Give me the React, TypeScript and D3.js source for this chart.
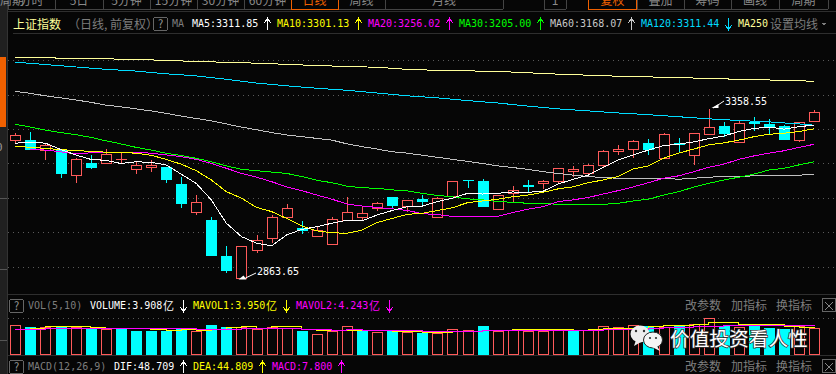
import React from "react";
import * as d3 from "d3";

// [open, close, high, low]
const ohlc: number[][] = [
  [3269,3282,3288,3257.5],[3268.3,3239.2,3290.7,3239],[3240,3252.9,3256.7,3210],[3239.2,3170.2,3242,3158.5],
  [3165.5,3212,3216,3144],[3201.4,3187.7,3224.6,3183.9],[3202.2,3227.6,3242,3200.5],[3211,3212,3232.5,3199],
  [3184.8,3194.7,3203.4,3170],[3190.6,3194.7,3210,3176],[3189.7,3151.9,3189.7,3144],[3140.2,3082.9,3159.7,3071],
  [3057.8,3087,3107.3,3050.8],[3035.4,2930.6,3043.3,2930.6],[2930.6,2887.8,2959.7,2882],[2867.4,2958.9,2958.9,2863.65],
  [2947.2,2976.3,2991.8,2940],[2983.9,3045,3049.1,2969.3],[3045,3069.5,3082,3045],[3012.1,3004.3,3031.6,2995.5],
  [2989.7,3005.4,3018.8,2986],[2965.6,3037.5,3043.3,2962.7],[3034.5,3057.8,3101.5,3034.5],[3045,3054.9,3072.4,3035.4],
  [3069.5,3084,3087.8,3061.6],[3102.4,3076.2,3102.4,3066.6],[3077,3093.7,3093.7,3059.6],[3096.6,3087.8,3108.2,3073.3],
  [3045,3098.6,3101.5,3042.1],[3106.2,3148.1,3148.1,3106.2],[3151,3149,3151,3129.5],[3149,3073.3,3154.8,3073.3],
  [3068.3,3107.3,3107.3,3068.3],[3113.2,3121.9,3134.4,3084],[3137.3,3132.4,3151.9,3117],[3142.3,3148.1,3151.9,3125.7],
  [3149.8,3185.9,3186.8,3142.3],[3179,3183.9,3191.7,3161.5],[3171.4,3194.7,3198.5,3163.5],[3196.4,3235.4,3239.2,3186],
  [3235.4,3241.2,3252.9,3224.6],[3243,3264.5,3268.3,3216.8],[3259.6,3240,3270.4,3225.5],[3215,3284.9,3287.8,3213],
  [3258.7,3254.6,3274.1,3229.6],[3223.8,3287.8,3287.8,3196.4],[3286.7,3305.3,3358.55,3286.7],[3309,3286.7,3320.7,3277.9],
  [3263.4,3316.9,3324.5,3263.4],[3319.8,3315.8,3334.4,3295.4],[3314,3306.2,3328.6,3282.9],[3308.2,3269.2,3312,3269.2],
  [3269.2,3319.8,3319.8,3263.4],[3324.5,3348.9,3357,3324.5],
];

const ma5 = [3259,3262,3259,3241,3225,3212,3209,3200,3205,3203,3196,3169,3142,3094,3026,2987,2968,2960,2992,3008,3016,3026,3035,3033,3050,3063,3074,3076,3089,3099,3113,3111,3113,3117,3116,3119,3140,3154,3166,3189,3210,3225,3239,3252,3256,3263,3272,3280,3293,3302,3306,3300,3307,3311.85];
const ma10 = [3250,3247,3244,3240,3238,3235,3233,3232,3230,3224,3212,3198,3179,3152,3118,3099,3072,3060,3040,3018,3004,2998,2997,3006,3028,3040,3052,3055,3063,3071,3086,3091,3096,3103,3108,3116,3126,3132,3144,3152,3162,3184,3193,3215,3230,3242,3254,3260,3268,3278,3285,3288,3293,3301.13];
const ma20 = [3241,3239,3234,3228,3231,3233,3233,3232,3230,3225,3220,3212,3200,3186,3171,3160,3147,3132,3121,3108,3096,3082,3076,3072,3068,3063,3054,3051,3046,3046,3046,3046,3057,3067,3074,3089,3094,3101,3111,3121,3132,3144,3157,3164,3176,3189,3198,3212,3222,3230,3237,3247,3256.02];
const ma30 = [3314,3306,3297,3290,3284,3276,3266,3257,3247,3239,3230,3223,3215,3205,3193,3183,3179,3175,3171,3162,3151,3144,3134,3129,3128,3123,3120,3113,3107,3103,3097,3094,3089,3087,3084,3084,3081,3081,3081,3081,3084,3091,3096,3108,3118,3131,3142,3152,3160,3169,3181,3186,3196,3205];
const ma60 = [3410,3404,3397,3391,3385,3378,3370,3365,3359,3353,3346,3338,3331,3324,3315,3306,3298,3290,3283,3278,3273,3268,3257,3249,3242,3234,3230,3224,3218,3212,3206,3200,3193,3188,3183,3176,3171,3166,3162,3159,3157,3157,3157,3157,3154,3157,3160,3162,3162,3164,3164,3164,3166,3168.07];
const ma120Idx = [0,2,4,6,8,10,12,14,16,18,20,22,24,26,28,30,32,34,36,38,40,42,44,46,48,50,52,53];
const ma120 = [3495,3488,3481,3474,3469,3461,3455,3445,3434,3426,3419,3413,3405,3397,3391,3383,3376,3367,3359,3353,3347,3342,3336,3330,3325,3321,3315,3311.44];
const ma250Idx = [0,4,8,12,16,20,24,26,28,32,36,40,44,48,52,53];
const ma250 = [3509,3506,3503,3497,3492,3485,3480,3474,3471,3468,3460,3454,3450,3445,3441,3439];

const volume = [4.36,4.05,4.15,4.26,4.05,3.85,3.74,4.0,3.49,3.54,3.54,3.74,3.44,4.41,4.05,4.15,3.85,4.15,3.9,3.49,2.97,3.54,4.21,3.54,3.33,3.54,3.28,3.13,3.23,3.74,3.59,4.26,3.54,3.64,3.54,3.54,3.69,3.49,3.59,4.21,4.05,4.36,4.26,4.15,4.41,4.51,5.44,4.26,4.15,4.26,4.0,3.74,4.26,3.908];
const volUp = [1,0,1,0,1,0,1,0,0,0,0,0,1,0,0,1,1,1,1,0,1,1,1,0,1,0,1,0,1,1,1,0,1,1,1,1,1,0,1,1,1,1,0,1,0,1,1,0,1,0,0,0,1,1];
const mavol1 = [3.74,3.85,4.15,4.15,4.21,4.05,3.9,3.85,3.95,3.79,3.64,3.74,3.59,3.74,4.0,4.15,3.9,4.15,4.15,3.74,3.64,3.64,3.64,3.64,3.59,3.38,3.38,3.23,3.28,3.49,3.49,3.54,3.64,3.74,3.74,3.74,3.74,3.64,3.74,3.85,3.95,3.95,4.15,4.31,4.31,4.51,4.77,4.77,4.56,4.56,4.51,4.26,4.1,3.95];
const mavol2 = [3.74,3.79,3.85,3.85,3.9,3.9,3.9,3.9,3.9,3.9,3.85,3.85,3.74,3.74,3.74,3.85,3.85,3.85,3.85,3.79,3.69,3.64,3.69,3.64,3.59,3.59,3.54,3.38,3.38,3.44,3.49,3.54,3.54,3.54,3.54,3.54,3.54,3.54,3.54,3.74,3.74,3.79,3.9,4.0,4.05,4.15,4.26,4.36,4.36,4.36,4.36,4.31,4.31,4.243];

const priceTicks = [2900,3000,3100,3200,3300,3400,3500];
const leftTabs = ["分时","5日","5分钟","15分钟","30分钟","60分钟","日线","周线","月线","更多周期"];
const rightTabs = ["1","复权","叠加","筹码","画线","周期"];

const C = { bg:"#060606", up:"#ff5a5a", down:"#00ffff", white:"#ffffff", y:"#ffff00", m:"#ff00ff", g:"#00ff00", gray:"#c0c0c0", c120:"#00dcff", p250:"#ffff99", dim:"#7d7d7d", sep:"#2e2e2e" };
const CJK = '"Noto Sans CJK SC", sans-serif';
const MONO = '"DejaVu Sans Mono", monospace';

const xS = d3.scaleLinear().domain([0,53]).range([15.3,814.3]);
const yS = d3.scaleLinear().domain([2863.65,3358.55]).range([279,109]);
const vS = d3.scaleLinear().domain([0,1]).range([353.7,347.2]);
const cx = (i:number) => Math.round(xS(i)) + 0.5;
const px = (v:number) => Math.round(v) + 0.5;

const priceLine = d3.line<[number,number]>().x(d=>xS(d[0])).y(d=>yS(d[1]));
const volLine = d3.line<[number,number]>().x(d=>xS(d[0])).y(d=>vS(d[1])).curve(d3.curveStepAfter);
const zip = (vals:number[], idx?:number[], off=0) => vals.map((v,i)=>[idx?idx[i]:i+off,v] as [number,number]);

const Arrow = ({x,y,color,down}:{x:number;y:number;color:string;down?:boolean}) => (
  <path d={down ? `M${x} ${y-6}V${y+6}M${x-3} ${y+1}L${x} ${y+6}L${x+3} ${y+1}` : `M${x} ${y+6}V${y-6}M${x-3} ${y-1}L${x} ${y-6}L${x+3} ${y-1}`} stroke={color} fill="none" strokeWidth={1} />
);

const Qbox = ({x,y}:{x:number;y:number}) => (
  <g>
    <rect x={x+.5} y={y+.5} width={14} height={13} rx={2} fill="none" stroke="#666" />
    <text x={x+7.5} y={y+11} fontFamily={CJK} fontSize={11} fill="#999" textAnchor="middle">?</text>
  </g>
);

const Mono = ({x,y,fill,children,size=10}:any) => (
  <text x={x} y={y} fontFamily={MONO} fontSize={size} fill={fill} xmlSpace="preserve">{children}</text>
);

const headerMA: [string,number,string,number,boolean][] = [
  ["MA5:3311.85",192,C.white,267,false],
  ["MA10:3301.13",277,C.y,358,false],
  ["MA20:3256.02",368,C.m,449,false],
  ["MA30:3205.00",459,C.g,540,false],
  ["MA60:3168.07",550,"#c8c8c8",631,false],
  ["MA120:3311.44",641,C.c120,728,true],
];

export default function App() {
  const tabEdgesL = [8,55,103,150,197,244,291,338,385,503];
  const tabEdgesR = [544,566,588,637,684,731,779,828];
  return (
    <svg width={836} height={374} style={{position:"fixed",left:0,top:0,display:"block",background:C.bg}} shapeRendering="crispEdges">
      <rect width={836} height={374} fill={C.bg} />
      {/* left strip */}
      <rect x={0} y={0} width={7} height={374} fill="#202020" />
      <rect x={0} y={57} width={6} height={70} fill="#f06000" />
      <line x1={7.5} x2={7.5} y1={0} y2={374} stroke="#333" />
      {[198.5,269.5,340.5].map(y=><line key={y} x1={0} x2={7} y1={y} y2={y} stroke="#555" />)}
      <text x={-4} y={151} fontFamily={MONO} fontSize={11} fill="#999">0</text>

      {/* tab bar */}
      <g>
        {leftTabs.map((t,i)=>(
          <g key={t}>
            <text x={(tabEdgesL[i]+tabEdgesL[i+1])/2} y={5} fontFamily={CJK} fontSize={12} fill={t==="日线"?"#f06000":"#8a8a8a"} textAnchor="middle">{t}</text>
            <line x1={px(tabEdgesL[i])} x2={px(tabEdgesL[i])} y1={0} y2={9} stroke="#444" />
          </g>
        ))}
        <line x1={503.5} x2={503.5} y1={0} y2={9} stroke="#444" />
        <line x1={8} x2={503} y1={9.5} y2={9.5} stroke="#444" />
        {rightTabs.map((t,i)=>{
          const a = i===0?tabEdgesR[0]:tabEdgesR[i+1];
          const b = i===0?tabEdgesR[1]:tabEdgesR[i+2];
          return (
            <g key={t}>
              <text x={(a+b)/2} y={5} fontFamily={CJK} fontSize={12} fill={t==="复权"?"#f06000":"#8a8a8a"} textAnchor="middle">{t}</text>
              <line x1={px(a)} x2={px(a)} y1={0} y2={9} stroke="#444" />
              <line x1={px(b)} x2={px(b)} y1={0} y2={9} stroke="#444" />
            </g>
          );
        })}
        <line x1={544} x2={566} y1={9.5} y2={9.5} stroke="#444" />
        <line x1={588} x2={828} y1={9.5} y2={9.5} stroke="#444" />
        <rect x={291.5} y={-2} width={47} height={11.5} fill="none" stroke="#f06000" />
        <rect x={588.5} y={-2} width={48} height={11.5} fill="none" stroke="#f06000" />
      </g>
      <line x1={8} x2={836} y1={11.5} y2={11.5} stroke={C.sep} />

      {/* header */}
      <text x={13} y={28.5} fontFamily={CJK} fontSize={12} fill={C.p250}>上证指数</text>
      <text x={68} y={28.5} fontFamily={CJK} fontSize={12} fill={C.dim}>（日线, 前复权）</text>
      <Qbox x={153} y={17} />
      <Mono x={172} y={27} fill={C.dim}>MA</Mono>
      {headerMA.map(([t,x,c,ax,dn])=>(
        <g key={t}>
          <Mono x={x} y={27} fill={c}>{t}</Mono>
          <Arrow x={ax+.5} y={24} color={c} down={dn} />
        </g>
      ))}
      <Mono x={738} y={27} fill={C.p250}>MA250</Mono>
      <text x={770} y={28.5} fontFamily={CJK} fontSize={12} fill={C.dim}>设置均线</text>
      <path d="M821 22.5H827L824 26Z" fill={C.dim} />
      <line x1={13} x2={836} y1={33.5} y2={33.5} stroke={C.sep} />

      {/* grid */}
      {priceTicks.map(p=>(
        <line key={p} x1={8} x2={836} y1={px(yS(p))} y2={px(yS(p))} stroke="#5a5a5a" strokeDasharray="1 4" />
      ))}

      {/* candles */}
      {ohlc.map(([o,c,h,l],i)=>{
        const up = c>=o;
        const col = up?C.up:C.down;
        const top = Math.round(yS(Math.max(o,c)));
        const bot = Math.round(yS(Math.min(o,c)));
        const x = cx(i);
        const thin = bot-top<2;
        return (
          <g key={i}>
            <line x1={x} x2={x} y1={yS(h)} y2={yS(l)} stroke={col} />
            {thin
              ? <line x1={x-5.5} x2={x+5.5} y1={top+.5} y2={top+.5} stroke={col} />
              : up
                ? <rect x={x-5} y={top+.5} width={10} height={bot-top} fill={C.bg} stroke={col} />
                : <rect x={x-5.5} y={top} width={11} height={bot-top} fill={col} />}
          </g>
        );
      })}

      {/* moving averages */}
      <path d={priceLine(zip(ma250,ma250Idx))!} fill="none" stroke={C.p250} />
      <path d={priceLine(zip(ma120,ma120Idx))!} fill="none" stroke={C.c120} />
      <path d={priceLine(zip(ma60))!} fill="none" stroke={C.gray} />
      <path d={priceLine(zip(ma30))!} fill="none" stroke={C.g} />
      <path d={priceLine(zip(ma20,undefined,1))!} fill="none" stroke={C.m} />
      <path d={priceLine(zip(ma10))!} fill="none" stroke={C.y} />
      <path d={priceLine(zip(ma5))!} fill="none" stroke={C.white} />

      {/* annotations */}
      <g>
        <path d={`M${cx(46)+4} ${yS(3358.55)-1}L724 ${yS(3358.55)-8}`} stroke="#fff" fill="none" shapeRendering="auto" />
        <path d={`M${cx(46)+2} ${yS(3358.55)-1}l7 -4l0 4Z`} fill="#fff" shapeRendering="auto" />
        <text x={725} y={105} fontFamily={MONO} fontSize={10} fill="#fff">3358.55</text>
        <path d={`M${cx(15)+4} 278L256 273`} stroke="#fff" fill="none" shapeRendering="auto" />
        <path d={`M${cx(15)-3} 279.5h8l-3 -4Z`} fill="#fff" shapeRendering="auto" />
        <text x={257} y={275} fontFamily={MONO} fontSize={10} fill="#fff">2863.65</text>
      </g>

      {/* volume pane */}
      <line x1={8} x2={836} y1={294.5} y2={294.5} stroke={C.sep} />
      <Qbox x={9} y={299} />
      <Mono x={28} y={309} fill={C.dim}>VOL(5,10)</Mono>
      <Mono x={90} y={309} fill={C.white}>VOLUME:3.908</Mono>
      <text x={163} y={310} fontFamily={CJK} fontSize={11} fill={C.white}>亿</text>
      <Arrow x={183.5} y={306} color={C.white} down />
      <Mono x={193} y={309} fill={C.y}>MAVOL1:3.950</Mono>
      <text x={266} y={310} fontFamily={CJK} fontSize={11} fill={C.y}>亿</text>
      <Arrow x={286.5} y={306} color={C.y} down />
      <Mono x={296} y={309} fill={C.m}>MAVOL2:4.243</Mono>
      <text x={369} y={310} fontFamily={CJK} fontSize={11} fill={C.m}>亿</text>
      <Arrow x={389.5} y={306} color={C.m} down />
      {[306,367].map(y=>(
        <g key={y}>
          <text x={685} y={y+4} fontFamily={CJK} fontSize={12} fill={C.dim}>改参数</text>
          <text x={731} y={y+4} fontFamily={CJK} fontSize={12} fill={C.dim}>加指标</text>
          <text x={776} y={y+4} fontFamily={CJK} fontSize={12} fill={C.dim}>换指标</text>
          <rect x={822.5} y={y-7.5} width={13} height={13} rx={1} fill="none" stroke="#666" />
          <path d={`M825 ${y-4}l8 8M833 ${y-4}l-8 8`} stroke="#888" />
        </g>
      ))}
      <line x1={8} x2={836} y1={318.5} y2={318.5} stroke="#5a5a5a" strokeDasharray="1 4" />
      {volume.map((v,i)=>{
        const top = Math.round(vS(v));
        const x = cx(i);
        const base = Math.round(vS(0));
        return volUp[i]
          ? <rect key={i} x={x-5} y={top+.5} width={10} height={base-top} fill="none" stroke={C.up} />
          : <rect key={i} x={x-5.5} y={top} width={11} height={base-top+1} fill={C.down} />;
      })}
      <path d={volLine(zip(mavol1))!} fill="none" stroke={C.y} />
      <path d={volLine(zip(mavol2))!} fill="none" stroke={C.m} />
      <line x1={8} x2={836} y1={355.5} y2={355.5} stroke={C.sep} />

      {/* macd header */}
      <Qbox x={9} y={360} />
      <Mono x={28} y={370} fill={C.dim}>MACD(12,26,9)</Mono>
      <Mono x={114} y={370} fill={C.white}>DIF:48.709</Mono>
      <Arrow x={183.5} y={367} color={C.white} />
      <Mono x={193} y={370} fill={C.y}>DEA:44.809</Mono>
      <Arrow x={262.5} y={367} color={C.y} />
      <Mono x={272} y={370} fill={C.m}>MACD:7.800</Mono>
      <Arrow x={341.5} y={367} color={C.m} />

      {/* watermark */}
      <g shapeRendering="auto">
        <ellipse cx={640} cy={334} rx={9.5} ry={8.5} fill="#eeeeee" />
        <path d="M636 340l-2 6l7 -4Z" fill="#eeeeee" />
        <ellipse cx={653} cy={340} rx={9.5} ry={8} fill="#f4f4f4" stroke="#222" />
        <path d="M657 346l3 5l-8 -4Z" fill="#f4f4f4" />
        <circle cx={636} cy={331} r={1.2} fill="#333" />
        <circle cx={644} cy={331} r={1.2} fill="#333" />
        <circle cx={650} cy={338} r={1.1} fill="#333" />
        <circle cx={656} cy={338} r={1.1} fill="#333" />
        <text x={670} y={346} fontFamily={CJK} fontSize={19.7} fill="#ffffff" stroke="#333" strokeWidth={1.5} paintOrder="stroke">价值投资看人性</text>
      </g>
    </svg>
  );
}
